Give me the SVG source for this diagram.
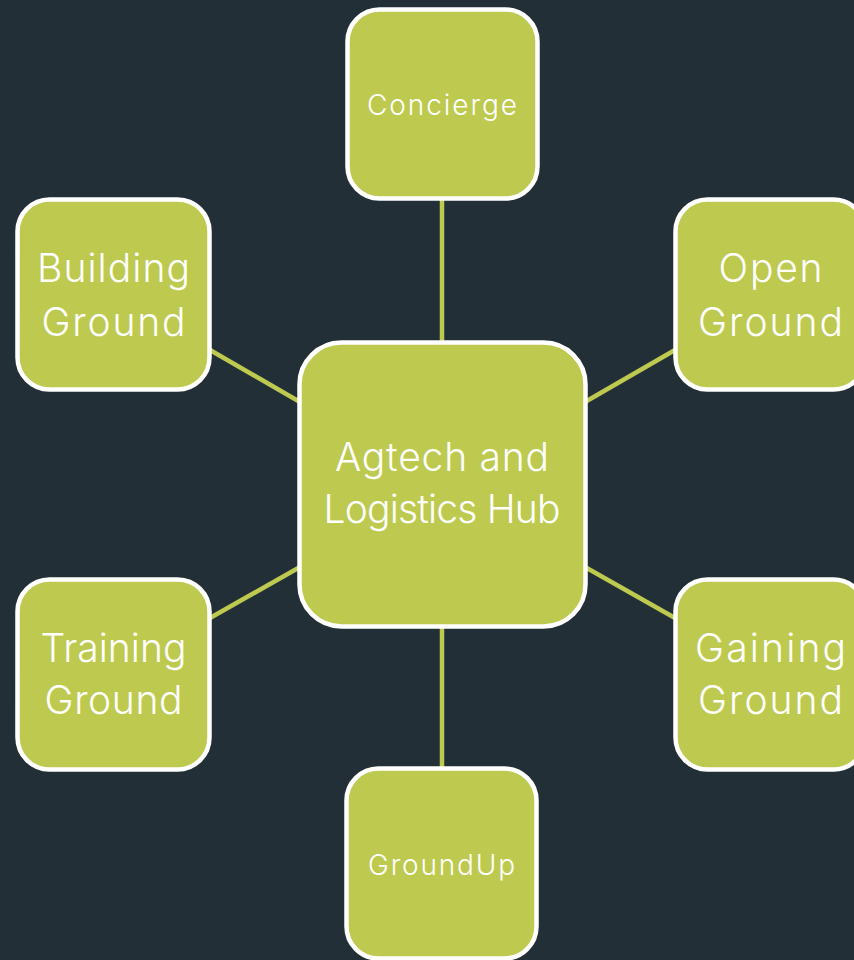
<svg xmlns="http://www.w3.org/2000/svg" width="854" height="960" viewBox="0 0 854 960">
<style>
.bg{fill:#232f37}
.node rect{fill:#bdca4f;stroke:#ffffff;stroke-width:4.5}
.node text{fill:#ffffff;font-family:Inter,"Noto Sans",sans-serif;font-weight:300;text-anchor:middle}
.conn line{stroke:#bdca4f;stroke-width:4.5}
.s{font-size:28px}
.l{font-size:39px}
</style>
<rect class="bg" x="0" y="0" width="854" height="960"/>
<g id="connectors" class="conn">
<line x1="442" y1="200" x2="442" y2="342"/>
<line x1="442" y1="628" x2="442" y2="768"/>
<line x1="210" y1="350" x2="300" y2="402"/>
<line x1="675" y1="350" x2="585" y2="402"/>
<line x1="210" y1="618" x2="300" y2="567"/>
<line x1="675" y1="618" x2="585" y2="567"/>
</g>
<g id="concierge" class="node">
<rect x="347.5" y="9.5" width="190" height="189" rx="32"/>
<text class="s" x="442" y="115" textLength="150" lengthAdjust="spacing">Concierge</text>
</g>
<g id="building" class="node">
<rect x="17.5" y="199.5" width="192" height="190" rx="32"/>
<text class="l" x="113.5" y="282" textLength="153" lengthAdjust="spacing">Building</text>
<text class="l" x="113.5" y="336" textLength="144" lengthAdjust="spacing">Ground</text>
</g>
<g id="open" class="node">
<rect x="675.5" y="199.5" width="190" height="190" rx="32"/>
<text class="l" x="770.5" y="282" textLength="104" lengthAdjust="spacing">Open</text>
<text class="l" x="770.5" y="336" textLength="145" lengthAdjust="spacing">Ground</text>
</g>
<g id="hub" class="node">
<rect x="299.5" y="342.5" width="286" height="284" rx="42"/>
<text class="l" x="442" y="471" textLength="214" lengthAdjust="spacing">Agtech and</text>
<text class="l" x="442" y="523" textLength="237" lengthAdjust="spacing">Logistics Hub</text>
</g>
<g id="training" class="node">
<rect x="17.5" y="579.5" width="192" height="190" rx="32"/>
<text class="l" x="113.5" y="662" textLength="146" lengthAdjust="spacing">Training</text>
<text class="l" x="113.5" y="714" textLength="138" lengthAdjust="spacing">Ground</text>
</g>
<g id="gaining" class="node">
<rect x="675.5" y="579.5" width="190" height="190" rx="32"/>
<text class="l" x="770.5" y="662" textLength="151" lengthAdjust="spacing">Gaining</text>
<text class="l" x="770.5" y="714" textLength="145" lengthAdjust="spacing">Ground</text>
</g>
<g id="groundup" class="node">
<rect x="346.5" y="768.5" width="190" height="190" rx="32"/>
<text class="s" x="441.5" y="875" textLength="147" lengthAdjust="spacing">GroundUp</text>
</g>
</svg>
